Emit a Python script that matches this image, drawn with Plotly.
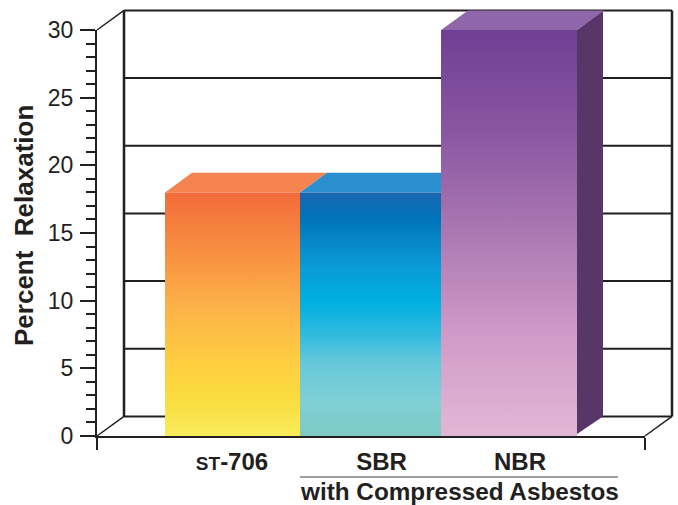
import plotly.graph_objects as go

# ---- data ----
categories = ["ST-706", "SBR", "NBR"]
values = [18, 18, 30]
bar_left = [68, 203, 344]      # horizontal scale units (1 unit = 1 px)
bar_right = [203, 344, 480]
label_pos = [135, 284.5, 423]
tick_labels = ['<span style="font-size:19px">ST</span>-706', "SBR", "NBR"]
y_ticks = [0, 5, 10, 15, 20, 25, 30]
group_label = "with Compressed Asbestos"
y_title = "Percent  Relaxation"

# ---- style ----
INK = "#231f20"
FONT = "Liberation Sans, Arial, sans-serif"
W, H = 678, 505
DX, DY = 27, 1.45
XMAX = 548
PX_PER_Y = 406 / 30
front_scales = [
    [[0, "#f8ec5c"], [0.16, "#fadc3e"], [0.28, "#fed040"], [0.54, "#fcb048"], [0.81, "#f6873f"], [1, "#f36b3b"]],
    [[0, "#7dcbc3"], [0.14, "#80cfd5"], [0.3, "#66c8da"], [0.42, "#2fbadf"], [0.55, "#00b0e0"], [0.7, "#0b9ad6"],
     [0.9, "#0073b9"], [1, "#1b66b0"]],
    [[0, "#e2b6d5"], [0.25, "#d09bc8"], [0.5, "#ab78b2"], [0.75, "#8a56a2"], [1, "#6f3f94"]],
]
top_colors = ["#f58350", "#2a8fce", "#8e66a9"]
side_colors = [None, None, "#583668"]

fig = go.Figure()


def line(xs, ys, width=2):
    fig.add_trace(go.Scatter(x=xs, y=ys, mode="lines", hoverinfo="skip",
                             line=dict(color=INK, width=width), showlegend=False))


# back wall and floor
for t in y_ticks[1:-1]:
    line([DX, XMAX + DX], [t + DY, t + DY], 2)
line([DX, XMAX + DX], [30 + DY, 30 + DY], 2)
line([DX, XMAX + DX], [DY, DY], 2)
line([DX, DX], [DY, 30 + DY], 2.5)
line([XMAX + DX, XMAX + DX], [DY, 30 + DY], 2.5)
line([0, DX], [0, DY], 1.5)
line([0, DX], [30, 30 + DY], 1.5)
line([XMAX, XMAX + DX], [0, DY], 1.5)

# bars, drawn from the back so nearer faces cover
for i in range(len(categories)):
    l, r, v = bar_left[i], bar_right[i], values[i]
    if side_colors[i]:
        fig.add_trace(go.Scatter(x=[r, r + DX - 1, r + DX - 1, r, r], y=[0.15, DY, v + DY, v, 0.15],
                                 mode="lines", fill="toself", fillcolor=side_colors[i],
                                 line=dict(width=0), hoverinfo="skip", showlegend=False))
    fig.add_trace(go.Scatter(x=[l, l + DX, r + DX, r, l], y=[v, v + DY, v + DY, v, v],
                             mode="lines", fill="toself", fillcolor=top_colors[i],
                             line=dict(width=0), hoverinfo="skip", showlegend=False))
for i in range(len(categories)):
    l, r, v = bar_left[i], bar_right[i], values[i]
    fig.add_trace(go.Scatter(x=[l, r, r, l, l], y=[0, 0, v, v, 0], name=categories[i],
                             mode="lines", fill="toself",
                             fillgradient=dict(type="vertical", colorscale=front_scales[i]),
                             line=dict(width=0), showlegend=False))

# invisible trace that brings up the overlay subplot carrying the visible axes
fig.add_trace(go.Scatter(x=[0], y=[0], xaxis="x2", yaxis="y2", mode="none", hoverinfo="skip", showlegend=False))

# pixel box of the front axes and the wider box that also holds the depth
L, R, B, T = 97, 645, 436, 30
L2, R2, B2, T2 = 90, 678, 442, 5

fig.update_layout(
    width=W, height=H, autosize=False,
    margin=dict(l=0, r=0, t=0, b=0),
    paper_bgcolor="white", plot_bgcolor="rgba(0,0,0,0)",
    font=dict(family=FONT, color=INK),
    showlegend=False,
    xaxis=dict(domain=[L2 / W, R2 / W], range=[L2 - L, R2 - L], visible=False, anchor="y", automargin=False),
    yaxis=dict(domain=[(H - B2) / H, (H - T2) / H], range=[(B - B2) / PX_PER_Y, (B - T2) / PX_PER_Y],
               visible=False, anchor="x", automargin=False),
    xaxis2=dict(domain=[L / W, R / W], range=[0, XMAX], anchor="y2", showgrid=False, zeroline=False,
                automargin=False, showline=True, linecolor=INK, linewidth=2,
                tickmode="array", tickvals=label_pos, ticktext=tick_labels, ticks="", ticklen=0,
                ticklabelstandoff=3,
                tickfont=dict(size=24, family=FONT, color=INK, weight="bold"),
                minor=dict(tickmode="array", tickvals=[0, XMAX], ticks="outside", ticklen=12, tickwidth=2,
                           tickcolor=INK)),
    yaxis2=dict(domain=[(H - B) / H, (H - T) / H], range=[0, 30], anchor="x2", showgrid=False, zeroline=False,
                automargin=False, showline=True, linecolor=INK, linewidth=2,
                tickmode="array", tickvals=y_ticks, ticks="outside", ticklen=15, tickwidth=2, tickcolor=INK,
                ticklabelstandoff=2,
                tickfont=dict(size=23, family=FONT, color=INK),
                minor=dict(dtick=1, ticks="outside", ticklen=9, tickwidth=1.5, tickcolor=INK, showgrid=False)),
    annotations=[
        dict(text=group_label, xref="paper", yref="paper", x=459.5 / W, y=(H - 491) / H,
             xanchor="center", yanchor="middle", showarrow=False,
             font=dict(size=24.3, family=FONT, color=INK, weight="bold")),
        dict(text=y_title, xref="paper", yref="paper", x=24 / W, y=(H - 226) / H, textangle=-90,
             xanchor="center", yanchor="middle", showarrow=False,
             font=dict(size=26, family=FONT, color=INK, weight="bold")),
    ],
    shapes=[dict(type="line", xref="paper", yref="paper", x0=300 / W, x1=618 / W,
                 y0=(H - 477) / H, y1=(H - 477) / H, line=dict(color="#808080", width=1.5))],
)
fig.write_html("out.html", config=dict(displayModeBar=False), post_script="document.body.style.margin='0';")
